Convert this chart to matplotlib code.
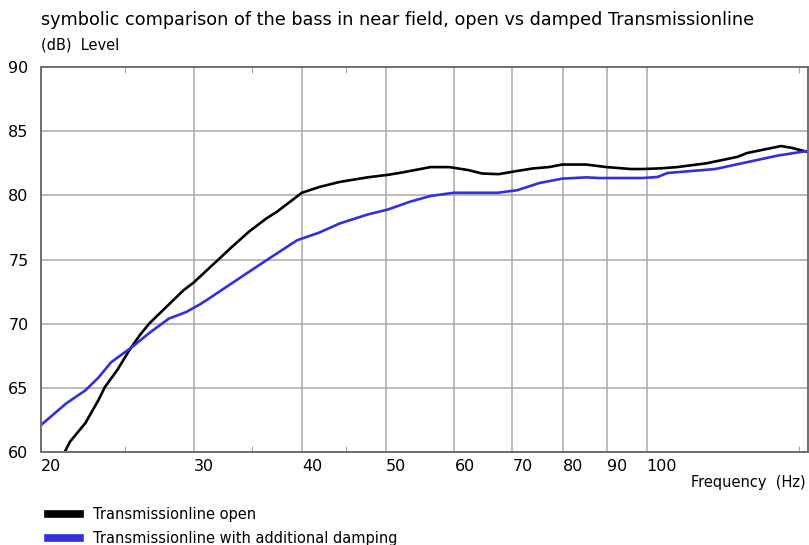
import matplotlib.pyplot as plt
from matplotlib.ticker import FixedLocator, NullFormatter

# values (frequency in Hz, level in dB)
freq_open = [21.3, 21.6, 22.5, 23.3, 23.7, 24.5, 25.3, 26.0, 26.7, 27.9, 29.2,
             30.0, 32.0, 33.2, 34.8, 36.4, 37.4, 40.0, 41.9, 44.2, 47.6, 50.3,
             52.4, 56.3, 59.2, 62.2, 64.6, 67.5, 70.9, 74.0, 77.1, 79.9, 85.1,
             89.9, 95.9, 98.9, 103.6, 108.4, 117.3, 127.3, 130.6, 142.9, 147.0, 153.0]
level_open = [60.0, 60.8, 62.25, 64.05, 65.06, 66.4, 67.95, 69.1, 70.05, 71.3, 72.6,
              73.2, 74.96, 75.97, 77.2, 78.2, 78.7, 80.2, 80.65, 81.04, 81.4, 81.6,
              81.8, 82.2, 82.2, 81.97, 81.7, 81.65, 81.9, 82.1, 82.2, 82.4, 82.4,
              82.2, 82.05, 82.05, 82.1, 82.2, 82.5, 83.0, 83.3, 83.84, 83.7, 83.4]

freq_damped = [20.0, 21.4, 22.5, 23.3, 24.1, 25.5, 26.7, 28.1, 29.4, 30.5, 31.0,
               34.6, 36.9, 39.5, 41.9, 44.2, 47.6, 50.3, 53.3, 56.3, 59.9, 67.3,
               70.9, 75.2, 79.9, 85.1, 88.0, 98.9, 102.9, 105.7, 120.0, 141.7, 153.0]
level_damped = [62.1, 63.8, 64.8, 65.8, 67.0, 68.2, 69.3, 70.4, 70.9, 71.5, 71.8,
                73.95, 75.2, 76.5, 77.1, 77.8, 78.5, 78.9, 79.5, 79.95, 80.2, 80.2,
                80.4, 80.96, 81.3, 81.4, 81.35, 81.35, 81.43, 81.74, 82.05, 83.1, 83.45]

x_ticks = [20, 30, 40, 50, 60, 70, 80, 90, 100]
x_minor = [25, 35, 45, 150]
y_ticks = [60, 65, 70, 75, 80, 85, 90]

W, H = 809, 545
fig = plt.figure(figsize=(W / 100, H / 100), dpi=100)
ax = fig.add_axes([41 / W, 1 - 452 / H, (808 - 41) / W, (452 - 67) / H])

ax.plot(freq_open, level_open, color='black', lw=1.9, label='Transmissionline open')
ax.plot(freq_damped, level_damped, color='#3030dd', lw=1.9,
        label='Transmissionline with additional damping')

ax.set_xscale('log')
ax.set_xlim(20, 153.5)
ax.set_ylim(60, 90)

ax.xaxis.set_major_locator(FixedLocator(x_ticks))
ax.xaxis.set_minor_locator(FixedLocator(x_minor))
ax.xaxis.set_minor_formatter(NullFormatter())
ax.set_xticklabels([str(t) for t in x_ticks])
ax.set_yticks(y_ticks)

ax.grid(True, which='major', color='#a8a8a8', lw=1.1)
ax.set_axisbelow(True)
ax.tick_params(axis='both', which='major', length=0, labelsize=11.5, colors='black')
ax.tick_params(axis='x', which='major', pad=5)
ax.tick_params(axis='y', which='major', pad=9)
ax.tick_params(axis='x', which='minor', direction='in', length=4,
               color='#909090', top=True, bottom=True)
for lbl in ax.get_xticklabels():
    lbl.set_horizontalalignment('left')

for side in ['left', 'top', 'bottom', 'right']:
    ax.spines[side].set_color('#6e6e6e')
    ax.spines[side].set_linewidth(1.4)

fig.text(41 / W, 1 - 20 / H, 'symbolic comparison of the bass in near field, open vs damped Transmissionline',
         fontsize=12.7, va='center', ha='left')
fig.text(41 / W, 1 - 45 / H, '(dB)  Level', fontsize=10.5, va='center', ha='left')
fig.text(806 / W, 1 - 483 / H, 'Frequency  (Hz)', fontsize=10.5, va='center', ha='right')

fig.legend(loc='upper left', bbox_to_anchor=(42 / W, 1 - 501 / H), frameon=False,
           fontsize=10.5, handlelength=2.2, handleheight=0.6, labelspacing=0.65,
           handletextpad=0.9, borderaxespad=0)
leg = fig.legends[0]
for h in leg.legend_handles:
    h.set_linewidth(5.5)

fig.savefig('out.png', dpi=100)
